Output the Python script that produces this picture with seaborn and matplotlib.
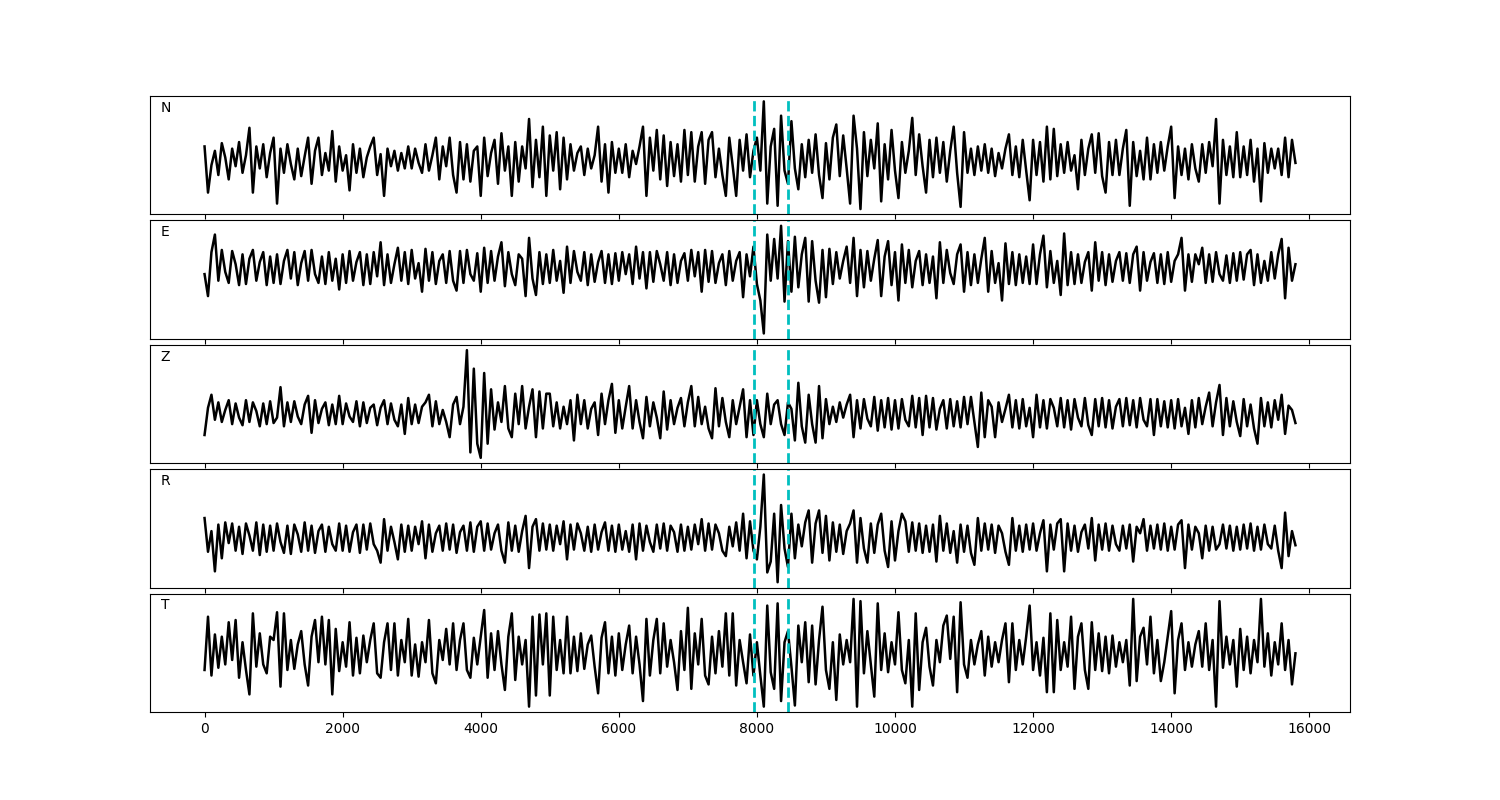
import numpy as np
import pandas as pd
import seaborn as sns
import matplotlib.pyplot as plt

# samples between plotted points, and the two picked phase times
sample_step = 50
pick_times = [7960, 8450]
components = ["N", "E", "Z", "R", "T"]

# amplitudes (one value every sample_step samples, 20 per row)
n_trace = [
    12, -30, -5, 8, -14, 15, 2, -18, 10, -6, 16, -12, 4, 29, -30, 12, -8, 14, -16, 6,
    20, -40, 10, -12, 14, -4, -18, 10, -15, 3, 20, -22, 8, 20, -14, 6, -10, 26, -20, 12,
    -10, 4, -28, 14, -12, 10, -16, 2, 12, 20, -14, 5, -33, 10, -6, 8, -10, 6, -8, 12,
    -8, 10, -3, -12, 14, -10, 4, 20, -18, 12, -6, 20, -14, -30, 16, -18, 14, -20, 8, 12,
    -33, 20, -15, 6, 18, -22, 24, -10, 12, -33, 16, -20, 12, -8, 37, -25, 18, -16, 30, -33,
    22, -10, 25, -27, 20, -18, 14, -10, 6, 12, -14, 10, -8, 4, 30, -20, 14, -30, 16, -12,
    10, -12, 14, -16, 8, -4, 12, 30, -33, 20, -10, 27, -18, 22, -24, 16, -15, 14, -20, 27,
    -14, 25, -20, 12, 25, -22, 18, 25, -16, 10, -14, -33, 20, -6, -33, 18, -10, 23, -16, 8,
    20, -10, 53, -40, 12, 28, -42, 40, -10, -22, 35, -8, -27, 14, -16, 18, -12, 23, -14, -35,
    15, -18, 20, 32, -15, 22, -8, -40, 40, 10, -45, 25, -15, 18, -8, 33, -38, 14, -18, 27,
    -10, -35, 16, -12, 8, 38, -14, 23, -6, -30, 18, -16, 20, -12, 16, -20, 8, 30, -12, -43,
    25, -12, 10, -14, 12, -10, 14, -12, 10, -15, 6, -8, 10, 23, -14, 12, -16, 18, -10, -37,
    18, -14, 16, -20, 30, -18, 28, -15, 14, -12, 16, -10, 4, -27, 18, -14, 10, 23, -12, 24,
    -15, -30, 16, -14, 18, -14, 10, 27, -42, 16, -15, 8, -18, 20, -18, 14, -12, 16, -10, 12,
    30, -35, 12, -14, 10, -18, 14, -8, -20, 14, -12, 16, -6, 37, -40, 18, -14, 12, -16, 25,
    -16, 12, -14, 18, -20, 10, -38, 15, -12, 10, -8, 10, -14, 20, -16, 18, -3,
]

e_trace = [
    -6, -26, 14, 30, -12, 16, -4, -14, 15, 3, -16, 12, -15, 8, 16, -12, 5, 14, -16, 10,
    -14, 12, -15, 6, 16, -10, 14, -16, 4, 15, -12, 16, -6, -14, 10, -15, 14, -12, 8, -20,
    12, -14, 15, -12, 5, 14, -16, 12, -15, 14, -8, 23, -16, 12, -14, 3, 18, -12, 14, -15,
    16, -10, 4, -22, 17, -12, 14, -15, 6, 12, -14, 15, -12, -21, 15, -14, 16, -6, -12, 13,
    -22, 18, -14, 15, -12, 10, 23, -17, 14, -6, -16, 12, 8, -26, 27, -10, -25, 14, -15, 12,
    -14, 16, -12, 6, -23, 19, -14, 15, -4, -12, 14, -16, 12, -13, 5, 15, -14, 12, -15, 13,
    -12, 14, -6, 12, -15, 19, -10, 14, -19, 14, -13, 15, 3, -12, 14, -16, 12, -14, 6, 13,
    -12, 16, -8, 14, -22, 16, -13, 15, -14, 4, 12, -16, 15, -12, 6, 14, -27, 12, -8, 19,
    -15, -30, -60, 30, -12, 26, -10, 38, -31, 24, -22, 28, -18, 12, 27, -31, 24, -12, -32, 16,
    -27, 17, -15, 14, -10, 6, 19, -14, 27, -26, 16, -18, 15, -12, 8, 25, -26, 10, 24, -16,
    14, -30, 21, -14, 16, -18, 6, 15, -16, 12, -14, 10, -28, 23, -14, 16, -5, -15, 12, 21,
    -22, 14, -16, 12, -14, 8, 27, -22, 15, -14, 4, -30, 22, -15, 14, -16, 12, -14, 10, -15,
    21, -15, 12, 29, -18, 15, -14, 6, -25, 31, -16, 14, -15, 12, -14, 5, 14, -21, 23, -12,
    14, -16, 12, -13, 6, 14, -12, 13, -14, 12, 19, -21, 14, -12, 5, 13, -14, 12, -15, 14,
    -13, 6, 12, 27, -21, 12, -13, 12, 3, 18, -14, 12, -13, 14, -6, -12, 11, -14, 13, -12,
    14, -11, 12, 16, -16, 12, -14, 6, -12, 14, -10, 12, 26, -28, 18, -12, 3,
]

z_trace = [
    -20, 5, 17, -6, 10, -8, 3, 12, -10, 9, -4, -11, 12, -8, 10, 2, -12, 9, -10, 11,
    -9, -4, 24, -12, 10, -8, 11, -3, -10, 8, 16, -18, 12, -9, 4, 10, -11, 8, -10, 16,
    -10, 9, -3, -8, 11, -12, 10, -9, 5, 8, -11, 5, 12, -10, 9, -6, -12, 8, -19, 14,
    -10, 8, -9, 6, 10, 17, -12, 11, -10, 3, -8, -22, 8, 15, -10, 6, 58, -36, 41, -28,
    -41, 37, -28, 22, -15, 10, -8, 25, -14, -22, 18, -10, 25, -14, 6, 22, -22, 20, -14, 18,
    18, -12, 10, -14, 6, -10, 12, -25, 17, -10, 12, -14, 4, 10, -20, 18, -10, 12, 27, -18,
    12, -14, 6, 25, -14, 12, -8, -23, 15, -12, 10, -4, -23, 20, -15, 12, -10, 5, 14, -12,
    10, 25, -12, 15, -10, 6, -14, -23, 23, -12, 14, -8, -22, 12, -10, 6, 22, -22, 12, -20,
    12, -10, -22, 18, -10, 8, 12, -10, -20, 10, 4, -25, 28, -12, -27, 17, -10, -27, 25, -23,
    13, -10, 6, -8, 10, -4, 8, 17, -22, 12, -14, 13, -5, -12, 15, -16, 12, -13, 14, -15,
    12, -14, 13, -6, -12, 16, -13, 14, -20, 16, -13, 14, -15, 4, 12, -14, 13, -12, 11, -13,
    15, -10, 15, -8, -31, 19, -22, 12, 6, -22, 10, -8, 4, 17, -13, 12, -14, 13, -12, 5,
    -22, 17, -13, 12, -14, 13, 5, -12, 14, -13, 12, -15, 13, -4, -12, 14, -11, -20, 13, -12,
    14, -13, 12, -14, 6, 13, -12, 14, -11, 12, -13, 14, -6, -12, 13, -20, 13, -12, 11, -13,
    12, -14, 13, -12, 5, -19, 12, -13, 14, -10, 6, 19, -12, 10, 26, -20, 14, -12, 11, -8,
    -21, 13, -12, 8, -14, -28, 14, -12, 10, -13, 12, -6, 17, -19, 7, 3, -9,
]

r_trace = [
    18, -13, 6, -31, 12, -19, 14, -5, 13, -12, 10, -15, 13, 2, -12, 14, -16, 12, -13, 11,
    -12, 13, -4, -14, 11, -15, 12, 3, -13, 14, -12, 11, -14, 6, 12, -13, 10, -6, -12, 13,
    -12, 11, -13, 5, 12, -14, 12, -11, 13, -6, -12, -23, 17, -12, 10, -4, -20, 12, -13, 11,
    -12, 10, -6, 15, -19, 12, -13, 4, 11, -12, 13, -11, 12, -14, 5, 11, -12, 14, -13, 10,
    15, -12, 13, -11, 4, 12, -12, -23, 14, -12, 11, -13, 6, 20, -28, 10, 17, -12, 13, -11,
    12, -12, 11, -6, 15, -20, 12, -11, 13, 4, -12, 10, -13, 12, -11, 5, 14, -12, 11, -13,
    12, -11, 6, -13, 12, -20, 13, -12, 11, -4, -13, 12, -10, 13, -12, 11, 5, -13, 12, -12,
    10, -11, 12, -6, 17, -12, 13, -11, 12, 4, -12, -17, 10, -8, 14, -12, 22, -19, 15, -12,
    -20, 10, 58, -32, -22, 22, -41, 30, -10, -27, 22, -19, 12, -8, 14, 25, -23, 13, 25, -14,
    20, -21, 14, -13, 12, -15, 6, 13, 25, -23, 18, -10, -23, 13, -14, 12, 22, -12, -27, 15,
    -21, 6, 22, 15, -13, 14, -12, 13, -14, 11, -13, 12, -22, 20, -12, 13, -14, 6, -23, 12,
    -13, 11, -14, -25, 18, -12, 13, -11, 12, -14, 11, 4, -13, -25, 18, -12, 11, -13, 12, -11,
    13, -12, 4, 16, -31, 12, -11, 13, 17, -31, 13, -12, 11, -13, 5, 12, -10, 18, -21, 12,
    -11, 13, -12, 11, -6, -12, 11, -10, 12, -22, 10, 4, 17, -12, 11, -10, 12, -11, 13, -12,
    10, -11, 12, 16, -28, 12, -11, 10, 4, -19, 11, -12, 10, -11, -6, 12, -10, 11, -12, 10,
    -11, 12, -10, 13, -12, 10, -11, 12, -6, -10, 11, -12, -28, 23, -17, 6, -7,
]

t_trace = [
    -15, 33, -20, 17, -13, 15, -10, 28, -6, 30, -22, 10, -15, -37, 36, -12, 18, -10, -18, 15,
    12, 37, -30, 36, -15, 12, -14, 8, 20, -10, -29, 15, 30, -8, 33, -10, 30, -37, 22, -16,
    10, -12, 28, -20, 14, -18, 16, -8, 12, 27, -18, -22, 10, 27, -15, 27, -20, 12, -8, 31,
    -20, 8, -21, 10, -8, 30, -18, -27, 12, -6, 22, -10, 27, -15, 12, 27, -15, -22, 14, -10,
    15, 39, -22, 18, -15, 20, -10, -33, 15, 36, -24, 15, -10, 12, -48, 33, -38, 35, -10, 36,
    -38, 33, -15, 12, -18, 33, -18, 15, -16, 18, -14, 8, 16, -12, -36, 14, 28, -18, 15, -20,
    18, -15, 8, 25, -18, 15, -10, -43, 31, -20, 12, 31, -18, 27, -12, 12, -8, -33, 20, -15,
    41, -32, 18, -10, 31, -20, -28, 15, -18, 20, -12, 36, -20, 36, -29, 12, -8, -27, 17, -20,
    10, -20, -48, 43, -17, -32, 45, -43, 10, 20, -12, -47, 25, -8, 28, -26, 25, -28, 12, 42,
    -15, -32, 10, -42, 17, -10, 12, -8, 49, -48, 47, -18, 20, -10, -39, 45, -15, 18, -17, 10,
    -10, 37, -15, -27, 12, -48, 36, -33, 10, 23, -12, -29, 12, -8, 25, 34, -5, 33, -35, 46,
    -10, -22, 12, -10, 8, 20, -20, 15, -12, 10, -8, 12, 27, -26, 27, -15, 12, -10, 15, 43,
    -15, 10, -20, 14, -35, 36, -35, 30, -15, 10, -12, 33, -32, 15, 27, -15, -32, 28, -15, 18,
    -16, 15, -18, 16, -12, 10, -8, 12, -29, 49, -25, 15, 23, -10, 33, -18, 12, -25, -8, 15,
    38, -36, 12, 27, -15, 10, -12, 8, 20, -12, 27, -15, 12, -48, 47, -13, 15, -10, 12, -30,
    22, -15, 15, -18, 12, -8, 49, -12, 18, -20, 10, -10, 27, -15, 12, -28, 0,
]

traces = {"N": n_trace, "E": e_trace, "Z": z_trace, "R": r_trace, "T": t_trace}

fig, axes = plt.subplots(5, 1, figsize=(15, 8), sharex=True)
fig.subplots_adjust(left=0.1, right=0.9, hspace=0.05)

for ax, comp in zip(axes, components):
    amp = traces[comp]
    df = pd.DataFrame({"sample": np.arange(len(amp)) * sample_step, "amp": amp})
    sns.lineplot(data=df, x="sample", y="amp", ax=ax, color="black",
                 linewidth=1.8, estimator=None, sort=False)
    for t in pick_times:
        ax.axvline(t, color="c", linestyle="--", linewidth=2)
    ax.set_yticks([])
    ax.set_xlabel("")
    ax.set_ylabel("")
    ax.text(0.009, 0.9, comp, transform=ax.transAxes, va="center", fontsize=10)

fig.savefig("out.png", dpi=100)
